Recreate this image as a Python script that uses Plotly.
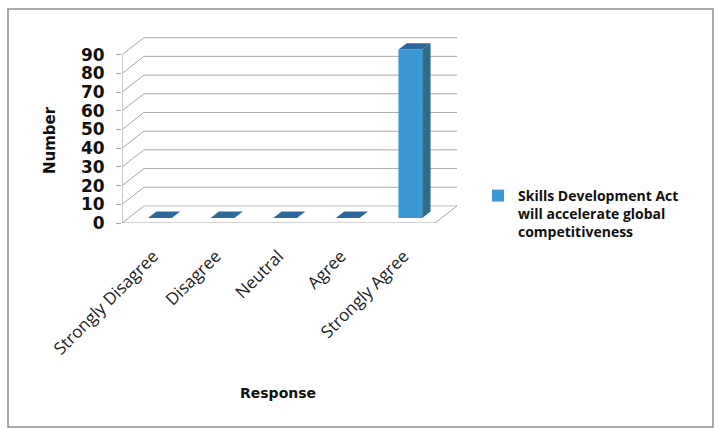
import plotly.graph_objects as go

# ---- data ----
categories = ["Strongly Disagree", "Disagree", "Neutral", "Agree", "Strongly Agree"]
counts = [0, 0, 0, 0, 90]
series_name = "Skills Development Act<br>will accelerate global<br>competitiveness"
y_ticks = [0, 10, 20, 30, 40, 50, 60, 70, 80, 90]

# ---- layout geometry (pixels) ----
W_PX, H_PX = 717, 430
PLOT_L, PLOT_R = 122, 457
PLOT_T, PLOT_B = 36, 223
X_RANGE = [-0.5, 4.851]
Y_RANGE = [0, 100]

# pseudo-3D depth in data units
DX, DY = 0.351, 9.1
BAR_W = 0.38
F0, F1 = 0.30, 0.68   # bar front/back position within the depth

FRONT = "#3c98d5"
SIDE = "#2d6d8f"
TOP = "#2b689b"
GRID = "#a8a8a8"


def px_x(p):
    return (p - PLOT_L) / (PLOT_R - PLOT_L)


def px_y(p):
    return (PLOT_B - p) / (PLOT_B - PLOT_T)


fig = go.Figure()

xs = list(range(len(categories)))

# front faces of the bars
fig.add_trace(go.Bar(
    x=[i + F0 * DX for i in xs],
    y=counts,
    base=[F0 * DY] * len(xs),
    width=BAR_W,
    marker=dict(color=FRONT, line=dict(width=0)),
    name=series_name,
    showlegend=True,
    hoverinfo="skip",
))

# side and top faces computed from the same values
for i, v in zip(xs, counts):
    xl = i - BAR_W / 2
    xr = i + BAR_W / 2
    if v > 0:
        fig.add_trace(go.Scatter(
            x=[xr + F0 * DX, xr + F0 * DX, xr + F1 * DX, xr + F1 * DX, xr + F0 * DX],
            y=[F0 * DY, v + F0 * DY, v + F1 * DY, F1 * DY, F0 * DY],
            fill="toself", fillcolor=SIDE, mode="lines",
            line=dict(width=0, color=SIDE), showlegend=False, hoverinfo="skip",
        ))
    fig.add_trace(go.Scatter(
        x=[xl + F0 * DX, xr + F0 * DX, xr + F1 * DX, xl + F1 * DX, xl + F0 * DX],
        y=[v + F0 * DY, v + F0 * DY, v + F1 * DY, v + F1 * DY, v + F0 * DY],
        fill="toself", fillcolor=TOP, mode="lines",
        line=dict(width=0, color=TOP), showlegend=False, hoverinfo="skip",
    ))

shapes = []
x0, x1 = -0.5, 4.5
# back-wall gridlines and left-wall diagonals
for t in y_ticks:
    shapes.append(dict(type="line", xref="x", yref="y", layer="below",
                       x0=x0 + DX, x1=x1 + DX, y0=t + DY, y1=t + DY,
                       line=dict(color="#cdbfae" if t == 0 else GRID, width=1)))
    shapes.append(dict(type="line", xref="x", yref="y", layer="below",
                       x0=x0, x1=x0 + DX, y0=t, y1=t + DY,
                       line=dict(color=GRID, width=1)))
# floor front edge and right edge
shapes.append(dict(type="line", xref="x", yref="y", layer="below",
                   x0=x0, x1=x1, y0=0, y1=0, line=dict(color=GRID, width=1.2)))
shapes.append(dict(type="line", xref="x", yref="y", layer="below",
                   x0=x1, x1=x1 + DX, y0=0, y1=DY, line=dict(color=GRID, width=1)))
# front value axis
shapes.append(dict(type="line", xref="x", yref="y", layer="below",
                   x0=x0, x1=x0, y0=0, y1=y_ticks[-1], line=dict(color=GRID, width=1.2)))
# outer chart border
shapes.append(dict(type="rect", xref="paper", yref="paper", layer="below",
                   x0=px_x(8), x1=px_x(713), y0=px_y(427), y1=px_y(9),
                   line=dict(color="#8f8f8f", width=1.5), fillcolor="rgba(0,0,0,0)"))

annotations = [
    dict(text="<b>Number</b>", xref="paper", yref="paper", x=px_x(50), y=px_y(140),
         textangle=-90, showarrow=False, xanchor="center", yanchor="middle",
         font=dict(family="DejaVu Sans", size=15, color="#111111")),
    dict(text="<b>Response</b>", xref="paper", yref="paper", x=px_x(278), y=px_y(393),
         showarrow=False, xanchor="center", yanchor="middle",
         font=dict(family="DejaVu Sans", size=14, color="#111111")),
]

fig.update_layout(
    width=W_PX, height=H_PX,
    margin=dict(l=PLOT_L, r=W_PX - PLOT_R, t=PLOT_T, b=H_PX - PLOT_B, pad=0, autoexpand=False),
    paper_bgcolor="white", plot_bgcolor="white",
    shapes=shapes, annotations=annotations,
    xaxis=dict(range=X_RANGE, tickmode="array", tickvals=xs, ticktext=categories,
               tickangle=-45, showgrid=False, zeroline=False, showline=False,
               ticks="", ticklabelstandoff=19, automargin=False,
               tickfont=dict(family="Open Sans", size=17, color="#222222")),
    yaxis=dict(range=Y_RANGE, tickmode="array", tickvals=y_ticks,
               ticktext=[str(t) for t in y_ticks],
               showgrid=False, zeroline=False, showline=False,
               ticks="outside", ticklen=5, tickcolor=GRID, ticklabelstandoff=8,
               automargin=False,
               tickfont=dict(family="DejaVu Sans", size=17, color="#111111", weight="bold")),
    legend=dict(x=px_x(478), y=px_y(180), xanchor="left", yanchor="top",
                valign="top", bgcolor="rgba(0,0,0,0)",
                font=dict(family="Open Sans", size=14, color="#111111", weight="bold")),
    showlegend=True,
)

fig.write_html("out.html")
